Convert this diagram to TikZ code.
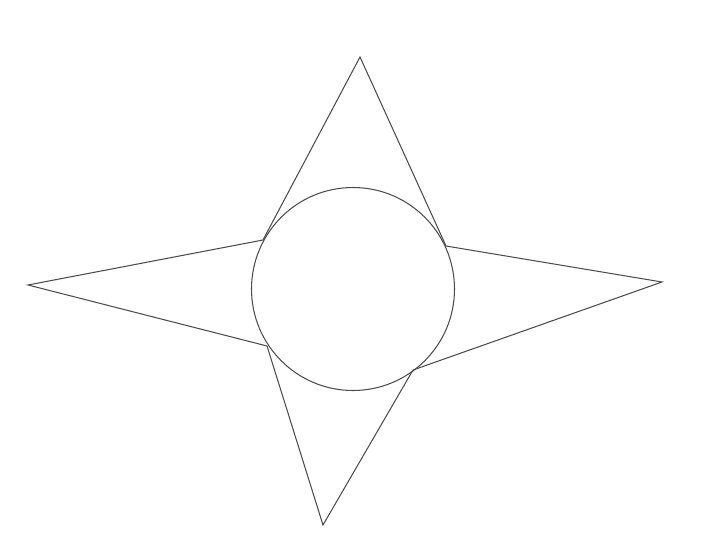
\documentclass[tikz,border=0pt]{standalone}
\begin{document}
\begin{tikzpicture}[x=0.02cm,y=-0.02cm,line width=0.6pt,draw=black!70]
    \useasboundingbox (0,0) rectangle (720,540);
    \begin{scope}
      % tips of the star
      \coordinate (top) at (360,57);
      \coordinate (left) at (28,285);
      \coordinate (right) at (662,282);
      \coordinate (bottom) at (323,525);
      % points where the arms meet the circle
      \coordinate (ul) at (263,240);
      \coordinate (ur) at (446,246);
      \coordinate (lr) at (413,370);
      \coordinate (ll) at (267,346);
    \end{scope}
    \draw[black!70] (353,289) circle (101.5);
    \draw[black!70]
      (ul) -- (top) -- (ur) -- (right) -- (lr) -- (bottom) -- (ll) -- (left) -- cycle;
\end{tikzpicture}
\end{document}
